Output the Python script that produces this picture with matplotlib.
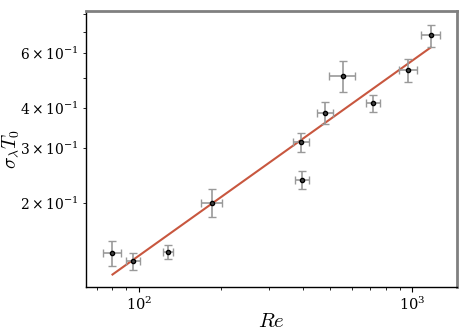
import matplotlib
matplotlib.use("Agg")
import matplotlib.pyplot as plt
import numpy as np

plt.rcParams["mathtext.fontset"] = "cm"
plt.rcParams["font.family"] = "serif"
plt.rcParams["font.serif"] = ["DejaVu Serif"]

# measured data
re_vals = [80, 95, 128, 185, 396, 392, 481, 557, 721, 967, 1170]
re_err = [6.2, 5.6, 5.2, 16.8, 24, 27, 33.6, 59.5, 41, 71.6, 95]
sigma_vals = [0.139, 0.1304, 0.140, 0.2004, 0.2369, 0.3126, 0.3874, 0.507, 0.4153, 0.528, 0.682]
sigma_err = [0.0127, 0.0083, 0.0071, 0.0204, 0.0161, 0.0221, 0.0302, 0.058, 0.0266, 0.0442, 0.0562]

# power-law fit  sigma = A * Re^b
fit_A = 0.00782
fit_b = 0.62

fig = plt.figure(figsize=(4.69, 3.36), dpi=100)
ax = fig.add_axes([0.1834, 0.1458, 0.7910, 0.8212])

ax.errorbar(re_vals, sigma_vals, xerr=re_err, yerr=sigma_err, fmt="o",
            ms=3, mfc="#444444", mec="black", mew=1.0,
            ecolor="#999999", elinewidth=1.2, capsize=3, capthick=1.2, zorder=3)

re_line = np.geomspace(min(re_vals), max(re_vals), 100)
ax.plot(re_line, fit_A * re_line ** fit_b, color="#c8573f", lw=1.5, zorder=2)

ax.set_xscale("log")
ax.set_yscale("log")
ax.set_xlim(64, 1460)
ax.set_ylim(0.108, 0.815)

ax.set_xlabel(r"$Re$", fontsize=15)
ax.set_ylabel(r"$\sigma_\lambda T_0$", fontsize=14)
ax.xaxis.set_label_coords(0.5, -0.09)
ax.yaxis.set_label_coords(-0.175, 0.5)
ax.tick_params(which="major", labelsize=10.5, length=3.5, pad=2.5)
ax.tick_params(which="minor", length=2)

for side in ["top", "right"]:
    ax.spines[side].set_color("#808080")
    ax.spines[side].set_linewidth(2)
for side in ["left", "bottom"]:
    ax.spines[side].set_color("black")
    ax.spines[side].set_linewidth(1)

fig.savefig("out.png", dpi=100)
